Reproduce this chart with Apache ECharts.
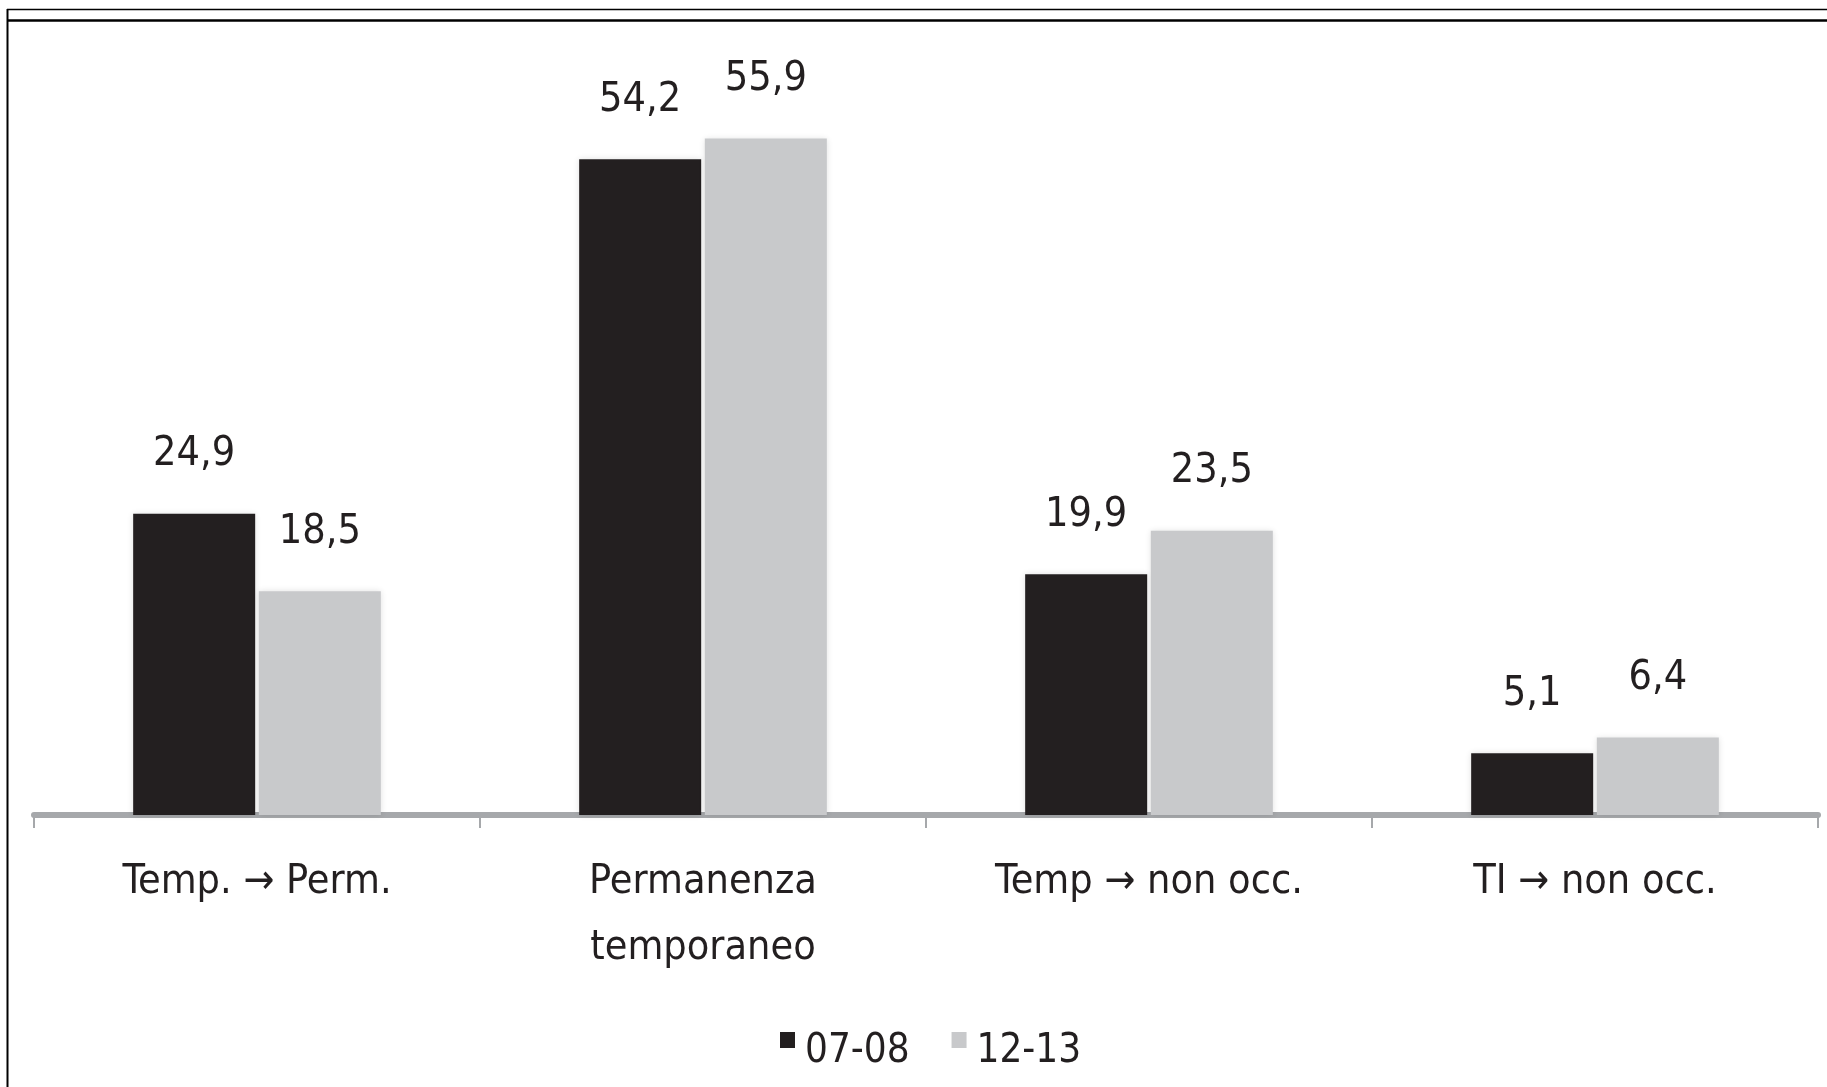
<!DOCTYPE html>
<html>
<head>
<meta charset="utf-8">
<script src="https://cdn.jsdelivr.net/npm/echarts@6/dist/echarts.min.js"></script>
<style>
  html, body { margin: 0; padding: 0; background: #ffffff; }
  #chart { width: 1827px; height: 1087px; }
</style>
</head>
<body>
<div id="chart"></div>
<script>
const categories = ['Temp. → Perm.', 'Permanenza\ntemporaneo', 'Temp → non occ.', 'TI → non occ.'];
const seriesNames = ['07-08', '12-13'];
const values0708 = [24.9, 54.2, 19.9, 5.1];
const values1213 = [18.5, 55.9, 23.5, 6.4];

const FONT = "'Liberation Sans Narrow', 'DejaVu Sans Condensed', 'Liberation Sans', sans-serif";
const TEXT = '#231f20';
const DARK = '#231f20';
const LIGHT = '#c8c9cb';
const AXIS = '#a6a8ab';

const fmt = p => p.value.toFixed(1).replace('.', ',');
const legendIcon = 'path://M0,0L15,0L15,16L0,16Z M0,40L0.05,40L0,39.95Z';

const chart = echarts.init(document.getElementById('chart'), null, { renderer: 'canvas' });

const labelStyle = {
  show: true,
  position: 'top',
  distance: 37,
  formatter: fmt,
  fontFamily: FONT,
  fontSize: 41,
  lineHeight: 44,
  color: TEXT
};

chart.setOption({
  backgroundColor: '#ffffff',
  animation: false,
  grid: { left: 34, right: 9, top: 89, bottom: 272, containLabel: false },
  legend: {
    data: seriesNames,
    left: 775,
    top: 1026,
    itemWidth: 15,
    itemHeight: 40,
    itemGap: 42,
    icon: legendIcon,
    textStyle: { fontFamily: FONT, fontSize: 40, lineHeight: 42, color: TEXT, padding: [0, 0, 0, 5] }
  },
  xAxis: {
    type: 'category',
    data: categories,
    boundaryGap: true,
    axisLine: { show: true, lineStyle: { color: AXIS, width: 6 } },
    axisTick: { show: true, length: 13, lineStyle: { color: AXIS, width: 2 } },
    axisLabel: { margin: 34, fontFamily: FONT, fontSize: 41, lineHeight: 66, color: TEXT, interval: 0 },
    splitLine: { show: false }
  },
  yAxis: {
    type: 'value',
    min: 0,
    max: 60,
    show: false,
    splitLine: { show: false }
  },
  series: [
    {
      name: seriesNames[0],
      type: 'bar',
      data: values0708,
      barWidth: 122,
      barGap: '3%',
      itemStyle: { color: DARK, shadowBlur: 6, shadowColor: 'rgba(0,0,0,0.12)' },
      label: labelStyle
    },
    {
      name: seriesNames[1],
      type: 'bar',
      data: values1213,
      barWidth: 122,
      barGap: '3%',
      itemStyle: { color: LIGHT, shadowBlur: 6, shadowColor: 'rgba(0,0,0,0.12)' },
      label: labelStyle
    }
  ],
  graphic: [
    { type: 'line', shape: { x1: 7, y1: 9.5, x2: 1827, y2: 9.5 }, style: { stroke: '#000', lineWidth: 1.5 }, silent: true },
    { type: 'line', shape: { x1: 7, y1: 20.5, x2: 1827, y2: 20.5 }, style: { stroke: '#000', lineWidth: 2.5 }, silent: true },
    { type: 'line', shape: { x1: 7.5, y1: 9, x2: 7.5, y2: 1087 }, style: { stroke: '#000', lineWidth: 2 }, silent: true }
  ]
});
</script>
</body>
</html>
